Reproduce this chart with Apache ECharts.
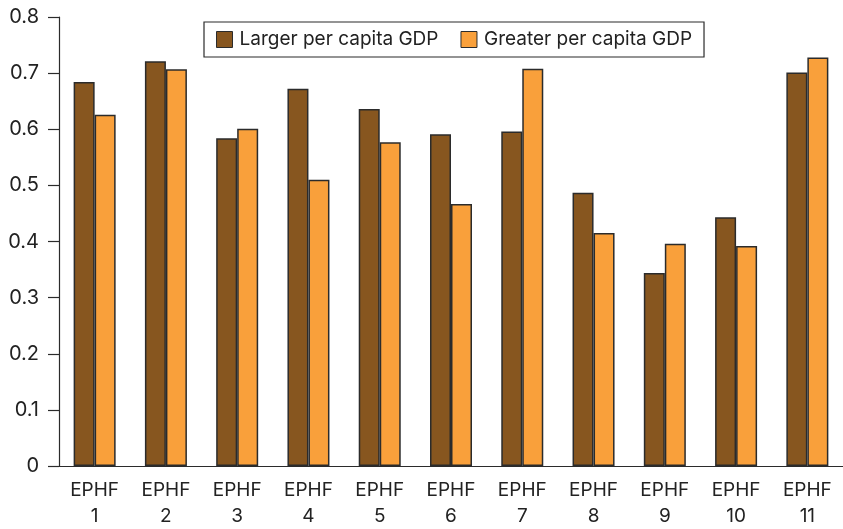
<!DOCTYPE html>
<html>
<head>
<meta charset="utf-8">
<script src="https://cdn.jsdelivr.net/npm/echarts@6/dist/echarts.min.js"></script>
<style>
  html, body { margin: 0; padding: 0; background: #fff; }
  #chart { width: 843px; height: 529px; }
</style>
</head>
<body>
<div id="chart"></div>
<script>
const categories = ['EPHF\n1', 'EPHF\n2', 'EPHF\n3', 'EPHF\n4', 'EPHF\n5', 'EPHF\n6',
  'EPHF\n7', 'EPHF\n8', 'EPHF\n9', 'EPHF\n10', 'EPHF\n11'];
const largerGdp = [0.684, 0.721, 0.584, 0.672, 0.636, 0.591, 0.596, 0.487, 0.344, 0.443, 0.701];
const greaterGdp = [0.626, 0.707, 0.601, 0.510, 0.577, 0.467, 0.708, 0.415, 0.396, 0.392, 0.728];
const seriesNames = ['Larger per capita GDP', 'Greater per capita GDP'];

const font = 'Inter';
const ink = '#2b2b2b';

let myChart = echarts.init(document.getElementById('chart'));

let option = {
  animation: false,
  textStyle: { fontFamily: font },
  grid: { left: 59, top: 17, width: 790, bottom: 62 },
  legend: {
    left: 204,
    top: 22,
    padding: [8, 12, 8, 12],
    borderColor: ink,
    borderWidth: 1.2,
    itemWidth: 16,
    itemHeight: 16,
    itemGap: 22,
    textStyle: { fontSize: 19, color: '#222', fontFamily: font, padding: [0, 0, 0, 2] },
    data: seriesNames.map(n => ({ name: n, icon: 'rect', itemStyle: { borderColor: ink, borderWidth: 1 } }))
  },
  xAxis: {
    type: 'category',
    data: categories,
    axisLine: { lineStyle: { color: ink, width: 1.2 } },
    axisTick: { length: 10, lineStyle: { color: ink, width: 1.2 } },
    axisLabel: { color: '#222', fontSize: 19, lineHeight: 26, margin: 11, fontFamily: font }
  },
  yAxis: {
    type: 'value',
    min: 0,
    max: 0.8,
    interval: 0.1,
    splitLine: { show: false },
    axisLine: { show: true, lineStyle: { color: ink, width: 1.2 } },
    axisTick: { show: true, length: 11, lineStyle: { color: ink, width: 1.2 } },
    axisLabel: {
      color: '#222',
      fontSize: 20,
      margin: 20,
      fontFamily: font,
      formatter: v => v === 0 ? '0' : v.toFixed(1)
    }
  },
  series: [
    {
      name: seriesNames[0],
      type: 'bar',
      data: largerGdp,
      barWidth: 21,
      barGap: '0%',
      itemStyle: { color: '#87561f', borderColor: ink, borderWidth: 1.5 }
    },
    {
      name: seriesNames[1],
      type: 'bar',
      data: greaterGdp,
      barWidth: 21,
      itemStyle: { color: '#f9a03b', borderColor: ink, borderWidth: 1.5 }
    }
  ]
};
myChart.setOption(option);
</script>
</body>
</html>
